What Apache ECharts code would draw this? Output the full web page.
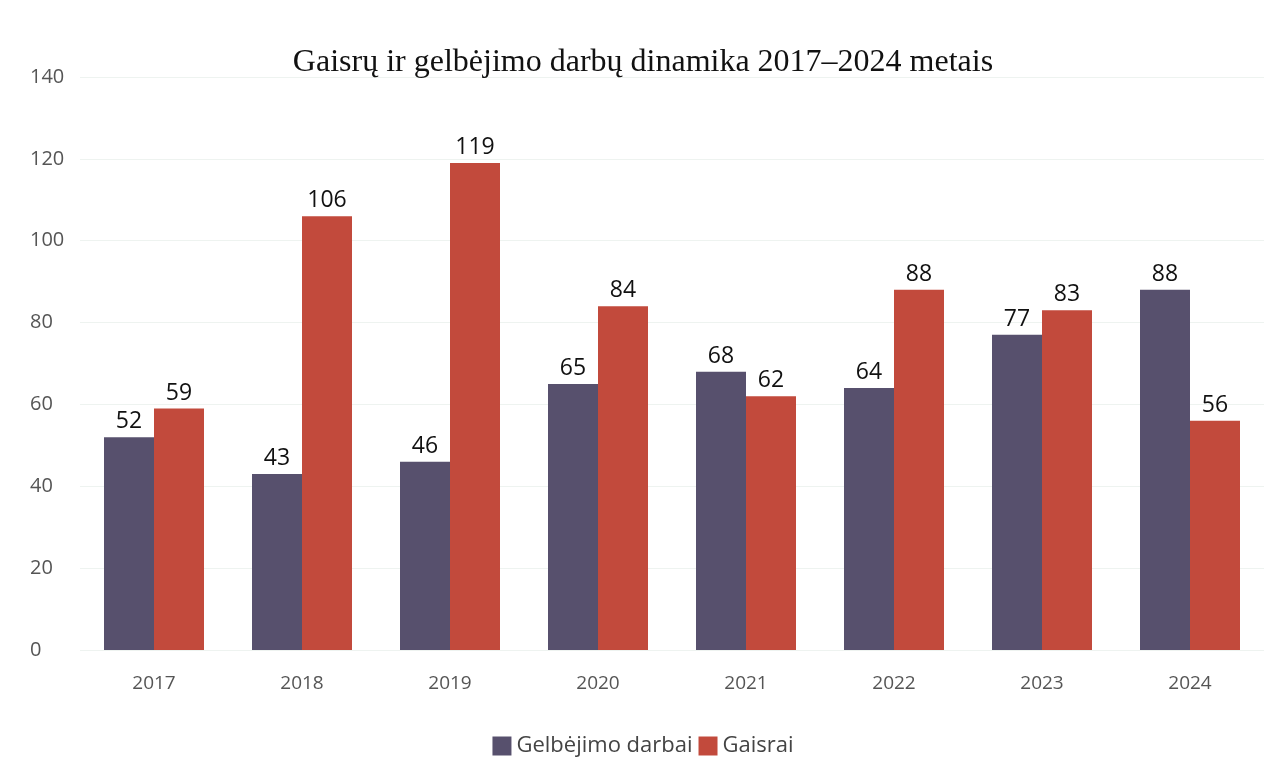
<!DOCTYPE html>
<html><head><meta charset="utf-8">
<script src="https://cdn.jsdelivr.net/npm/echarts@6/dist/echarts.min.js"></script>
<style>html,body{margin:0;padding:0;background:#fff}#c{width:1286px;height:782px}</style>
</head><body><div id="c"></div>
<script>
const years = ['2017','2018','2019','2020','2021','2022','2023','2024'];
const gelbejimo = [52,43,46,65,68,64,77,88];
const gaisrai = [59,106,119,84,62,88,83,56];
const yTicks = [0,20,40,60,80,100,120,140];

const chart = echarts.init(document.getElementById('c'));
chart.setOption({
  backgroundColor:'#ffffff',
  animation:false,
  title:{text:'Gaisrų ir gelbėjimo darbų dinamika 2017–2024 metais',left:'center',top:42,
    textStyle:{fontFamily:'Liberation Serif',fontWeight:'normal',fontSize:32,color:'#111'}},
  legend:{bottom:20,left:'center',itemWidth:19,itemHeight:19,itemGap:6,icon:'rect',
    textStyle:{fontFamily:'Open Sans',fontSize:22,color:'#444'}},
  grid:{left:80,right:22,top:77,bottom:132},
  xAxis:{type:'category',data:years,
    axisLine:{show:false},axisTick:{show:false},
    axisLabel:{fontFamily:'Open Sans',fontSize:19,color:'#555',margin:24}},
  yAxis:{type:'value',min:yTicks[0],max:yTicks[yTicks.length-1],interval:20,
    axisLabel:{fontFamily:'Open Sans',fontSize:20,color:'#555',align:'left',margin:50},
    splitLine:{lineStyle:{color:'#eef3f0'}}},
  series:[
    {name:'Gelbėjimo darbai',type:'bar',data:gelbejimo,barWidth:50,barGap:'0%',
      itemStyle:{color:'#57506d'},
      label:{show:true,position:'top',fontFamily:'Open Sans',fontSize:23,color:'#111',distance:4}},
    {name:'Gaisrai',type:'bar',data:gaisrai,barWidth:50,
      itemStyle:{color:'#c24a3c'},
      label:{show:true,position:'top',fontFamily:'Open Sans',fontSize:23,color:'#111',distance:4}}
  ]
});
</script></body></html>
